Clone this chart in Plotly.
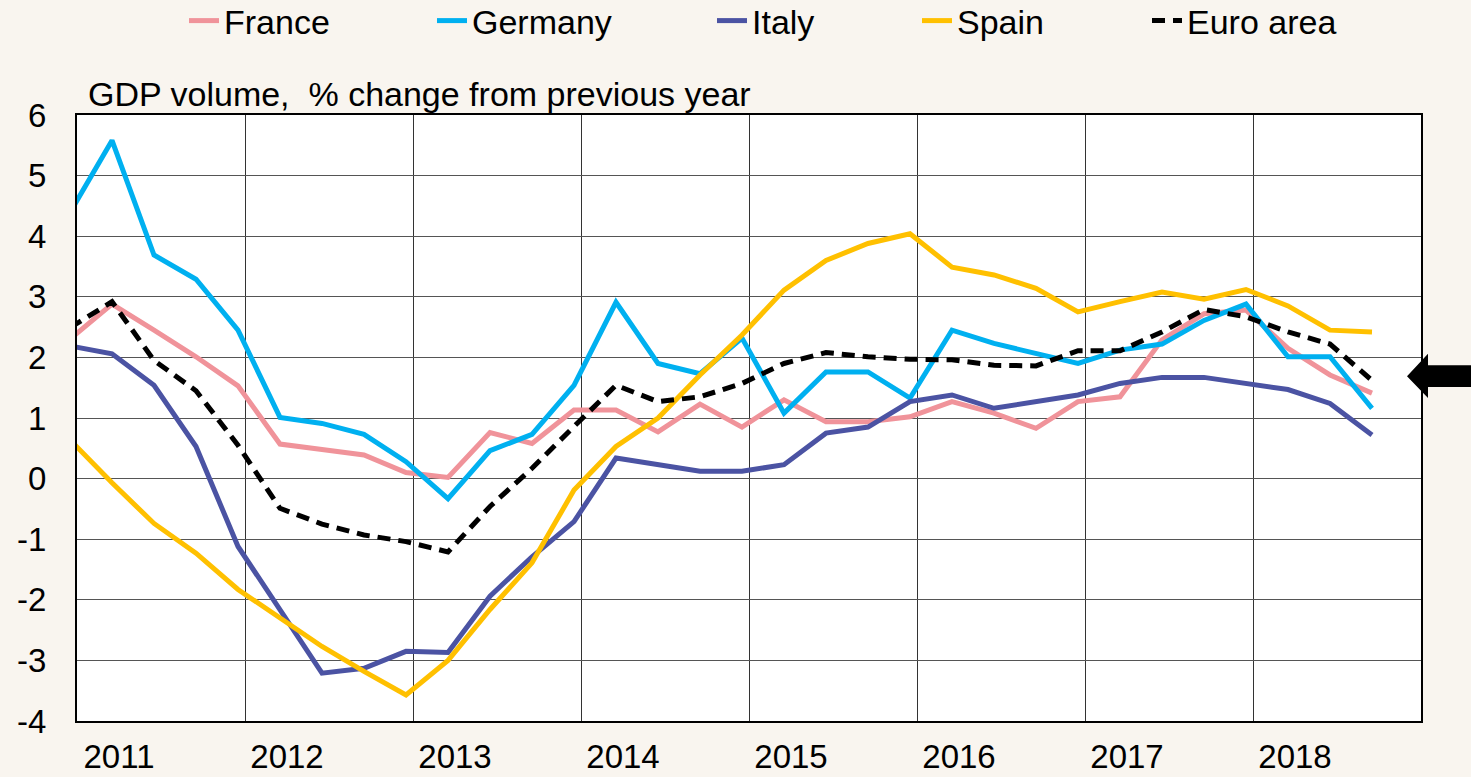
import plotly.graph_objects as go

# Quarterly observations, 2011Q1 .. 2018Q4
years = [2011, 2012, 2013, 2014, 2015, 2016, 2017, 2018]
quarters = [f"{y}Q{q}" for y in years for q in range(1, 5)]

france = [2.30, 2.88, 2.45, 2.01, 1.53, 0.57, 0.48, 0.39, 0.10, 0.02, 0.76, 0.58, 1.13, 1.13, 0.77, 1.23,
          0.85, 1.30, 0.94, 0.94, 1.02, 1.27, 1.08, 0.83, 1.27, 1.35, 2.29, 2.72, 2.78, 2.15, 1.71, 1.41]
germany = [4.39, 5.58, 3.69, 3.29, 2.45, 1.01, 0.91, 0.73, 0.28, -0.33, 0.46, 0.73, 1.54, 2.91, 1.90, 1.73,
           2.32, 1.08, 1.76, 1.76, 1.33, 2.45, 2.23, 2.07, 1.90, 2.12, 2.22, 2.61, 2.88, 2.01, 2.01, 1.16]
italy = [2.19, 2.06, 1.54, 0.53, -1.12, -2.16, -3.21, -3.13, -2.85, -2.87, -1.94, -1.29, -0.71, 0.34, 0.23, 0.12,
         0.12, 0.23, 0.75, 0.85, 1.27, 1.38, 1.16, 1.27, 1.38, 1.57, 1.67, 1.67, 1.57, 1.47, 1.24, 0.72]
spain = [0.64, -0.07, -0.74, -1.23, -1.83, -2.30, -2.77, -3.18, -3.57, -3.00, -2.16, -1.39, -0.19, 0.53, 1.00, 1.71,
         2.37, 3.11, 3.60, 3.88, 4.04, 3.49, 3.36, 3.14, 2.75, 2.92, 3.08, 2.96, 3.12, 2.85, 2.45, 2.42]
euro_area = [2.49, 2.92, 1.95, 1.45, 0.55, -0.49, -0.75, -0.93, -1.04, -1.21, -0.46, 0.17, 0.86, 1.54, 1.27, 1.35,
             1.57, 1.90, 2.08, 2.01, 1.97, 1.96, 1.87, 1.86, 2.11, 2.11, 2.42, 2.79, 2.67, 2.42, 2.22, 1.62]

y_ticks = [-4, -3, -2, -1, 0, 1, 2, 3, 4, 5, 6]
y_title = "GDP volume,  % change from previous year"

# position of each quarter on a year scale (observations plotted just before quarter end)
x = [int(q[:4]) + (3 * (int(q[-1]) - 1) - 0.5) / 12 for q in quarters]

FONT = "Liberation Sans, Arial, sans-serif"
series = [
    ("France", france, "#F0939A", "solid"),
    ("Germany", germany, "#00B0F0", "solid"),
    ("Italy", italy, "#4B53A3", "solid"),
    ("Spain", spain, "#FFC000", "solid"),
    ("Euro area", euro_area, "#000000", "13px,8px"),
]
legend_x = [184, 432, 712, 917, 1147]   # px, left edge of each legend entry

W, H = 1471, 777
fig = go.Figure()
legends = {}
for i, (name, vals, col, dash) in enumerate(series):
    key = "legend" if i == 0 else f"legend{i + 1}"
    fig.add_trace(go.Scatter(x=x, y=vals, name=name, mode="lines", legend=key,
                             line=dict(color=col, width=5, dash=dash)))
    legends[key] = dict(xref="container", yref="container", x=legend_x[i] / W, xanchor="left",
                        y=1 - 21 / H, yanchor="middle", orientation="h",
                        font=dict(size=34, family=FONT), bgcolor="rgba(0,0,0,0)",
                        borderwidth=0, itemwidth=30)

fig.update_layout(
    width=W, height=H,
    margin=dict(l=77, r=50, t=115, b=56, autoexpand=False),
    paper_bgcolor="#F9F5EF",
    plot_bgcolor="#FFFFFF",
    font=dict(family=FONT, size=33, color="#000000"),
    showlegend=True,
    **legends,
)

fig.update_xaxes(
    range=[2011, 2019],
    tickvals=[y + 0.25 for y in years], ticktext=[str(y) for y in years],
    showgrid=False, ticks="", zeroline=False,
    showline=True, linecolor="#000000", linewidth=2, mirror=True,
    minor=dict(tick0=2011, dtick=1, showgrid=True, gridcolor="#333333", gridwidth=1),
    tickfont=dict(size=33), ticklabelstandoff=5,
)
fig.update_yaxes(
    range=[-4, 6], tickvals=y_ticks, ticktext=[str(v) for v in y_ticks],
    showgrid=True, gridcolor="#555555", gridwidth=1.2, zeroline=False,
    showline=True, linecolor="#000000", linewidth=2, mirror=True,
    ticks="", tickfont=dict(size=33), ticklabelstandoff=22,
)

fig.add_annotation(text=y_title, xref="paper", yref="paper", x=0.007, y=1.0,
                   xanchor="left", yanchor="bottom", yshift=0, showarrow=False,
                   font=dict(size=34))

# arrow marker on the right side pointing at the latest euro-area value
ax = [(px - 77) / 1344 for px in (1407, 1428, 1428, 1475, 1475, 1428, 1428)]
ay = [1.69, 2.06, 1.87, 1.87, 1.51, 1.51, 1.33]
path = "M " + " L ".join(f"{a},{b}" for a, b in zip(ax, ay)) + " Z"
fig.add_shape(type="path", path=path, xref="paper", yref="y",
              fillcolor="#000000", line=dict(color="#000000", width=0), layer="above")

fig.write_html("out.html", config={"displayModeBar": False},
               post_script="document.body.style.margin='0';")
